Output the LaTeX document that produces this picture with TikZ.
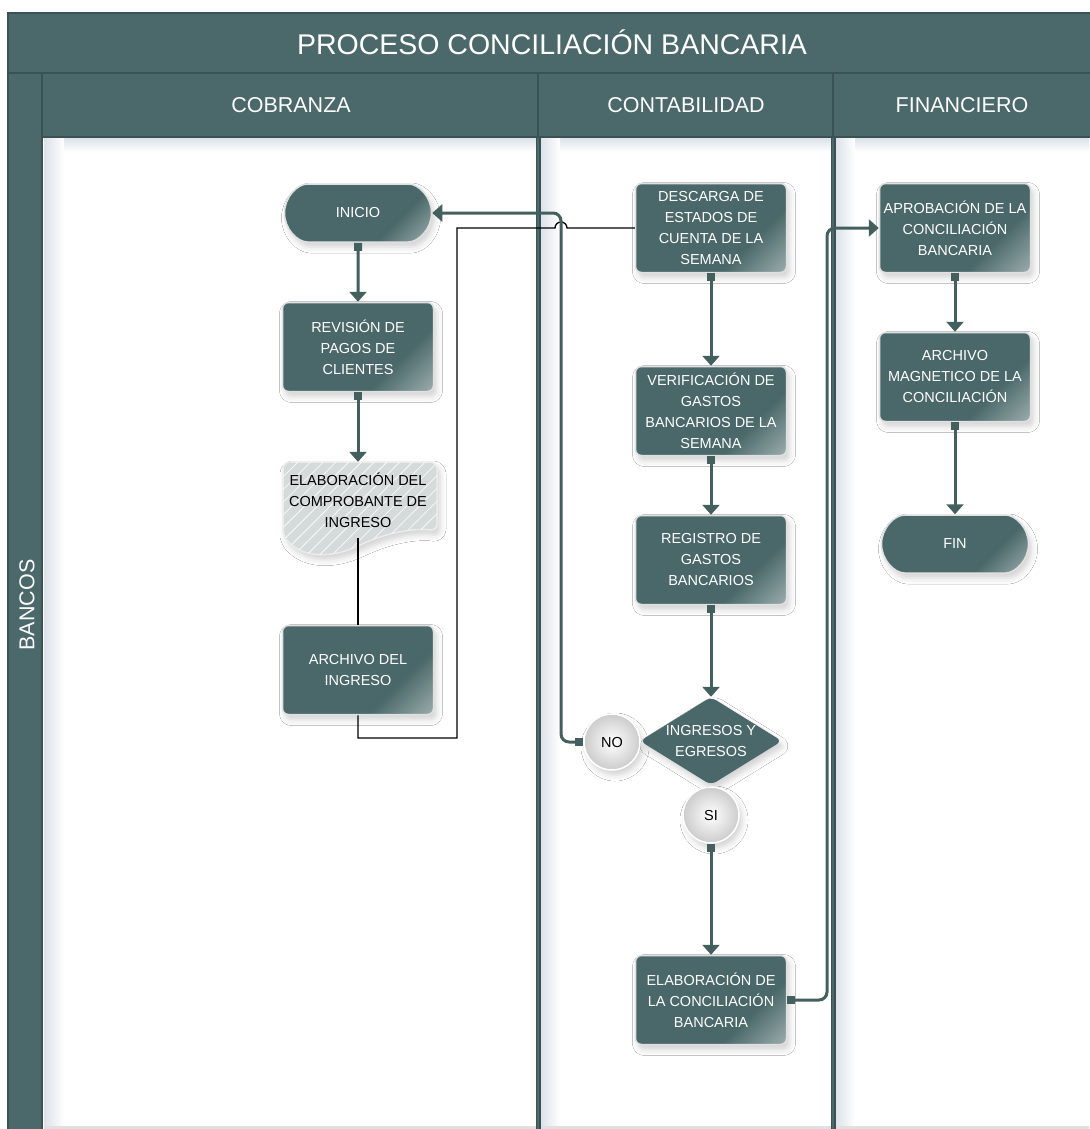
\documentclass[tikz,border=0pt]{standalone}
\usepackage{fontspec}
\setmainfont{Liberation Sans}
\usetikzlibrary{arrows.meta,shapes.geometric,shapes.misc,shadows.blur,patterns.meta}
\definecolor{bandteal}{HTML}{4B696A}
\definecolor{banddark}{HTML}{3A5253}
\definecolor{boxteal}{HTML}{4A6869}
\definecolor{boxglare}{HTML}{A3B3B3}
\definecolor{linkteal}{HTML}{43605F}
\definecolor{laneshade}{HTML}{DCE1E9}
\definecolor{docgrey}{HTML}{D5DADA}
\pgfdeclarehorizontalshading{boxglow}{100bp}{color(0bp)=(boxteal); color(66bp)=(boxteal); color(87bp)=(boxglare); color(100bp)=(boxglare)}

\begin{document}
\begin{tikzpicture}[x=1pt, y=-1pt,
    band/.style={fill=bandteal, draw=banddark, line width=2.5pt},
    head/.style={text=white, anchor=base, font=\fontsize{21.5}{26}\selectfont},
    txt/.style={font=\fontsize{14.5}{21}\selectfont, align=center},
    shad/.style={blur shadow={shadow xshift=3pt, shadow yshift=-5pt, shadow blur radius=6pt, shadow opacity=18}},
    proc/.style={txt, rectangle, rounded corners=6pt, minimum width=151pt, minimum height=89pt,
      inner sep=2pt, text=white, draw=black!12, line width=1.5pt, shading=boxglow, shading angle=-45, shad},
    term/.style={proc, rounded rectangle, minimum height=58pt},
    decide/.style={txt, diamond, aspect=1.6, minimum width=142pt, minimum height=88pt, inner sep=0pt,
      rounded corners=6pt, fill=boxteal, text=white, shad},
    answer/.style={txt, circle, minimum size=56pt, inner sep=0pt, text=black, shading=radial,
      inner color=white, outer color=black!20, draw=white, line width=1.5pt, shad},
    flow/.style={linkteal, line width=3pt, {Square[length=8pt,width=8pt]}-{Triangle[length=10pt,width=17pt]}},
    plain/.style={black, line width=1.3pt}]
  \useasboundingbox (0,0) rectangle (1089,1129);
  \fill[white] (0,0) rectangle (1089,1129);
  % Lanes
  \shade[top color=laneshade, bottom color=white] (44,138) rectangle (1089,152);
  \shade[left color=laneshade, right color=white] (44,138) rectangle (64,1129);
  \shade[left color=laneshade, right color=white] (540,138) rectangle (560,1129);
  \shade[left color=laneshade, right color=white] (835,138) rectangle (855,1129);
  \fill[black!12] (44,1126) rectangle (1089,1129);
  \draw[banddark, line width=5pt] (538,137) -- (538,1129);
  \draw[bandteal, line width=1.2pt] (538,137) -- (538,1129);
  \draw[banddark, line width=5pt] (833,137) -- (833,1129);
  \draw[bandteal, line width=1.2pt] (833,137) -- (833,1129);
  \path[band] (8,13) rectangle (1092,73);
  \path[band] (8,73) rectangle (42,1132);
  \path[band] (42,73) rectangle (1092,137);
  \draw[banddark, line width=1.5pt] (538,73) -- (538,137);
  \draw[banddark, line width=1.5pt] (833,73) -- (833,137);
  \node[head, font=\fontsize{28.5}{34}\selectfont] (title) at (552,55) {PROCESO CONCILIACIÓN BANCARIA};
  \node[head] (cobr) at (291,113) {COBRANZA};
  \node[head] (cont) at (686,113) {CONTABILIDAD};
  \node[head] (fina) at (962,113) {FINANCIERO};
  \node[head, anchor=center, rotate=90] (banc) at (27,605) {BANCOS};

  % Cobranza
  \node[term] (ini) at (358,213) {INICIO};
  \node[proc] (rev) at (358,347) {REVISIÓN DE\\PAGOS DE\\CLIENTES};
  \path[shad, fill=docgrey, draw=black!8, line width=1.5pt, rounded corners=7pt,
    postaction={pattern={Lines[angle=45, distance=9pt, line width=0.8pt]}, pattern color=white!85!docgrey}]
    (283,536) -- (283,462) -- (437,462) -- (437,531)
    .. controls (415,528) and (390,532) .. (360,545)
    .. controls (335,556) and (305,560) .. (283,536) -- cycle;
  \node[txt, minimum height=76pt, inner sep=0pt] (comp) at (358,500) {ELABORACIÓN DEL\\COMPROBANTE DE\\INGRESO};
  \node[proc] (arch) at (358,670) {ARCHIVO DEL\\INGRESO};

  % Contabilidad
  \node[proc] (desc) at (711,228) {DESCARGA DE\\ESTADOS DE\\CUENTA DE LA\\SEMANA};
  \node[proc] (verif) at (711,411) {VERIFICACIÓN DE\\GASTOS\\BANCARIOS DE LA\\SEMANA};
  \node[proc] (regis) at (711,560) {REGISTRO DE\\GASTOS\\BANCARIOS};
  \node[decide] (dec) at (711,741) {INGRESOS Y\\EGRESOS};
  \node[answer] (no) at (612,742) {NO};
  \node[answer] (si) at (711,815) {SI};
  \node[proc] (conc) at (711,1000) {ELABORACIÓN DE\\LA CONCILIACIÓN\\BANCARIA};

  % Financiero
  \node[proc] (aprob) at (955,228) {APROBACIÓN DE LA\\CONCILIACIÓN\\BANCARIA};
  \node[proc] (magn) at (955,377) {ARCHIVO\\MAGNETICO DE LA\\CONCILIACIÓN};
  \node[term] (fin) at (955,544) {FIN};

  % Connectors
  \draw[flow] (ini) -- (rev);
  \draw[flow] (rev) -- (comp);
  \draw[plain] (comp.south) -- (arch.north);
  \coordinate (hop) at (555,228);
  \draw[plain] (arch.south) |- (457,738) -- (457,228) -- (hop)
    arc[start angle=180, end angle=360, radius=6] -- (desc.west);
  \draw[flow] (desc) -- (verif);
  \draw[flow] (verif) -- (regis);
  \draw[flow] (regis) -- (dec);
  \draw[flow, rounded corners=8pt] (no.west) -- (561,742) -- (561,213) -- (ini.east);
  \draw[flow] (si) -- (conc);
  \draw[flow, rounded corners=8pt] (conc.east) -- (827,1000) -- (827,228) -- (aprob.west);
  \draw[flow] (aprob) -- (magn);
  \draw[flow] (magn) -- (fin);
\end{tikzpicture}
\end{document}
